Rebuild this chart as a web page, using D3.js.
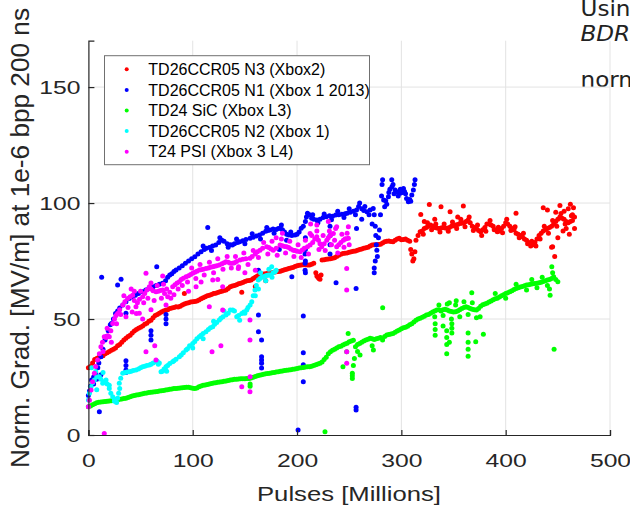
<!DOCTYPE html>
<html><head><meta charset="utf-8">
<script src="https://cdn.jsdelivr.net/npm/d3@7"></script>
<style>body{margin:0;background:#fff;overflow:hidden}svg{display:block}</style>
</head><body>
<script>
const seriesNames = ["TD26CCR05 N3 (Xbox2)","TD26CCR05 N1 (Xbox 1 2013)","TD24 SiC (Xbox L3)","TD26CCR05 N2 (Xbox 1)","T24 PSI (Xbox 3 L4)"];
const seriesColors = ["#ff0000","#0000ff","#00ff00","#00ffff","#ff00ff"];
const xTicks = [0,100,200,300,400,500];
const yTicks = [0,50,100,150];
const xLabel = "Pulses [Millions]";
const yLabel = "Norm. Grad. [MV/m] at 1e-6 bpp 200 ns";
const sideTexts = ["Using","BDR","normalized"];

const redPoints = [[0,29],[2,29.5],[4,31],[6,32.5],[8,33],[10,33.5],[12,34],[14,34.2],[16,35],[18,35.5],[20,36],[22,36.5],[24,37],[26,37.5],[28,38.5],[30,39],[32,40],[34,41],[36,41.7],[38,42.5],[40,43],[42,44],[44,44.8],[46,45.5],[48,46],[50,46.5],[52,47],[54,47.8],[56,48.2],[58,49],[60,49.5],[62,50.5],[64,51.5],[66,52],[68,52.5],[70,53],[72,53.5],[74,53.8],[76,54],[78,54.5],[80,54.8],[82,55],[84,55.3],[86,55.2],[88,55.5],[90,56],[92,56.5],[94,56.8],[96,57],[98,57.3],[100,57.5],[102,57.6],[104,57.8],[106,58.2],[108,58.7],[110,59.2],[112,59.6],[114,60],[116,60.3],[118,60.6],[120,61],[122,61.1],[124,61.4],[126,61.8],[128,62],[130,62.3],[132,62.5],[134,63.2],[136,63.9],[138,64.2],[140,64.5],[142,64.8],[144,65.2],[146,65.4],[148,65.8],[150,66.2],[152,66.5],[154,66.6],[156,66.8],[158,67.5],[160,68],[162,68.5],[164,69],[166,69.2],[168,69.4],[170,69.5],[172,69.7],[174,69.8],[176,70],[178,70.2],[180,70.4],[182,70.5],[184,70.6],[186,70.9],[188,71.2],[190,71.5],[192,71.8],[194,72],[196,72.2],[198,72.6],[200,73],[202,73.2],[204,73.3],[206,73.4],[208,73.4],[210,73.3],[212,73.3],[214,73.6],[216,74],[218,70],[219,68.5],[220,68],[221,67.5],[222,67.2],[223,69],[224,75.4],[226,75.6],[228,75.8],[230,75.9],[232,76],[234,76.2],[236,76.4],[238,77],[240,77.5],[242,77.9],[244,78.3],[246,78.4],[248,78.5],[250,78.8],[252,79],[254,79.2],[256,79.3],[258,79.6],[260,80],[262,80.2],[264,80.5],[266,80.7],[268,81],[270,81.5],[272,81.9],[274,82],[276,82],[278,82.1],[280,82.2],[282,82.8],[284,83.3],[286,83.5],[288,83.6],[290,83.4],[292,83.3],[294,84],[296,84.5],[298,84.8],[300,84.2],[302,84.3],[304,84.5],[306,84],[308,83.5],[309,80],[310,78],[311,75],[312,76],[313,79],[314,84],[316,86],[318,87.6],[320,88],[322,89],[324,89.5],[326,90],[328,90.5],[330,90],[332,89.5],[334,89.2],[336,89],[338,89.3],[340,89.5],[342,89.3],[344,89.1],[346,89.5],[348,90],[350,90.2],[352,90.5],[354,90.8],[356,91.2],[358,91.3],[360,91.5],[362,92],[364,92.7],[366,91.5],[368,90],[370,89.5],[372,89],[374,88.2],[376,87.6],[378,88.5],[380,89.5],[382,91],[384,91],[386,90.5],[388,90],[390,88.5],[392,87.6],[394,88],[396,89],[398,90],[400,91.5],[402,91],[404,90],[406,89],[408,88.5],[410,87],[412,86.5],[414,86],[416,85.5],[418,84.5],[420,84],[422,83],[424,81.5],[426,82],[428,83],[430,84.5],[432,86],[434,87],[436,88],[438,88.5],[440,89],[442,89.5],[444,90],[446,91],[448,92],[450,93],[452,94],[454,93.5],[456,93],[458,92],[460,91.5],[462,92],[464,92.5],[466,94],
[321,86.5],[325,91.5],[329,88.5],[333,91],[337,87.5],[341,91],[345,87.8],[349,91.8],[353,89],[357,93],[361,89.8],[365,94],[369,88.2],[373,90.5],[377,86],[381,87.8],[385,92.5],[389,88.5],[393,89.6],[397,87.2],[401,93],[405,88.2],[409,89.8],[413,85],[417,87],[421,82.5],[425,83.5],[429,81.5],[433,84.5],[437,90],[441,87],[445,92.5],[449,90],[453,95.5],[457,91],[463,94.5],
[445,81.2],[448,96],[450,85],[452,99],[455,88],[456,96.5],[458,89],[460,97.5],[461,86.5],[462,99.5],[464,95],[465,98],[466,89],[326.8,99.4],[338,98.4],[346.7,96.3],[359.4,98.7],[409.9,95.6],[436,98],[318.6,95.1],[322,92],[440,97],[332,93],[354,94],[147,61.5],[92,61],[160,64],[170,66.5],[444,81],[447,77]];

const bluePoints = [[0,17],[1,19],[2,21],[3,23.7],[5,25],[7,26.7],[9,29],[10,31],[12,33.7],[14,37],[16,41],[17,42.4],[19,45],[21,47.5],[22,48.1],[24,50],[26,52.4],[28,53.5],[30,54.8],[33,56],[36,57.5],[39,58.9],[42,59.5],[45,60.3],[48,61],[52,61.8],[55,62.5],[58,63.2],[62,63.9],[65,64.5],[68,65],[71,65.4],[74,66.5],[76,68],[78,69],[80,69.5],[82,70.5],[84,71.1],[87,72],[90,73],[93,74],[96,75],[99,76],[102,76.9],[105,78],[108,79],[111,80],[113,80.5],[116,80.8],[119,81.5],[122,81.9],[125,83],[128,84],[130,83.5],[133,82.5],[136,82],[138,81.9],[140,82.5],[143,83],[145,83.3],[148,83.8],[151,84.3],[155,84.8],[158,85.3],[161,85.8],[164,86.2],[167,87],[170,87.8],[172,88.2],[174,88.4],[177,88.8],[180,88.6],[182,89],[184,89.1],[186,88.5],[188,87.5],[190,86.5],[192,86.2],[195,86],[198,86.2],[200,86.5],[202,87.5],[204,89.1],[206,90],[208,92],[209,94],[210,95.6],[212,95],[214,93.5],[216,93],[219,92.7],[222,93],[225,93.8],[228,94.1],[231,94.5],[234,94.3],[237,94.8],[240,95],[243,95.2],[246,95.4],[248,95.6],[251,96],[254,96.5],[257,97],[259,98.5],[260,100],[262,97.5],[264,96.8],[267,96.3],[270,97],[273,97.7],[274,95],[275,90],[275.5,86],[276,82],[276.5,79.7],[277,77],[278,85],[279,88.4],[280,95],[281,103],[281.5,108],[282,110],[283,101.3],[284,98.4],[286,99.5],[287.6,102.7],[289,106],[290.8,110],[292,108],[294,105.6],[296,104.8],[298.8,104.2],[300,105.5],[302,106.3],[304,104],[305,102],[306.7,100.6],[308,101.5],[310,103.5],[311.5,105.6],[312.5,108],[313.1,110],
[285,101],[291,107],[293,104],[297,103],[301,104.5],[303,105],[309,100.8],[299,106],[288,104.5],[5,22],[8,24],[12,26],
[110,81.5],[118,79.5],[126,85],[134,81],[142,84.5],[150,82.5],[157,86.8],[165,84.5],[171,89.5],[178,87],[185,90.5],[194,87.5],[215,95],[220,91.5],[226,95.3],[233,92.8],[239,96.5],[245,93.8],[250,97.5],[256,95],[265,98.5],[269,95],
[12.7,68],[28,64.7],[31.3,67.1],[65.5,72.5],[114.4,89.5],[10.5,10],[36,32],[36,30],[36,28],[36,27],[60,45],[60,43],[60,41],[74.4,52],[74.4,50],[74.4,48],[36,52.5],[163,71],[163,51.7],[163,44.5],[166,41],[166,33.7],[166,32.3],[166,30.9],[166,28.9],[195,68.2],[206,51.3],[206,35.5],[206,30.3],[206,23],[201,2.2],[237.4,65.6],[256.6,63.2],[256.6,12],[256.6,10.8],[208,70],[208,75],[208,80],[208,85],[231.6,90],[231.6,86],[231.6,82],[231.6,78],[207.7,78],[207.7,74],[207.7,71],[274,72],[274,70],[275,75],[257,89],[262,93],[183,80],[190,84],[272,91]];

const greenPoints = [[0,12.2],[2,12.5],[4,13],[6,13.5],[8,13.9],[10,14.1],[12,14.2],[14,14.3],[16,14.4],[18,14.5],[20,14.7],[22,14.8],[24,15],[26,15.1],[28,15.2],[30,15.4],[32,15.5],[34,15.7],[36,15.8],[38,16.2],[40,16.5],[42,16.8],[44,17],[46,17.2],[48,17.4],[50,17.6],[52,17.8],[54,18],[56,18.1],[58,18.3],[60,18.4],[62,18.5],[64,18.7],[66,18.8],[68,19],[70,19.1],[72,19.2],[74,19.4],[76,19.5],[78,19.7],[80,19.8],[82,20],[84,20.1],[86,20.2],[88,20.3],[90,20.4],[92,20.5],[94,20.6],[96,20.6],[98,20.4],[100,20.2],[102,20],[104,20.3],[106,20.8],[108,21.1],[110,21.4],[112,21.6],[114,21.8],[116,22],[118,22.2],[120,22.4],[122,22.5],[124,22.7],[126,22.9],[128,23],[130,23.2],[132,23.3],[134,23.5],[136,23.7],[138,23.8],[140,24],[142,24],[144,24.1],[146,24.2],[148,24.3],[150,24.3],[152,24.4],[154,24.4],[156,24.6],[158,24.9],[160,25.2],[162,25.5],[164,25.8],[166,26],[168,26.2],[170,26.4],[172,26.5],[174,26.6],[176,26.8],[178,27],[180,27.2],[182,27.3],[184,27.5],[186,27.6],[188,27.8],[190,27.9],[192,28],[194,28.1],[196,28.3],[198,28.5],[200,28.7],[202,28.9],[204,29],[206,29.1],[208,29.3],[210,29.4],[212,29.4],[214,29.6],[216,30],[218,30.3],[220,30.6],[222,30.9],[224,31.5],[226,32.5],[228,33.5],[230,35],[232,35.9],[234,36.5],[236,37],[238,37.5],[240,38],[242,38.3],[244,38.8],[246,39.2],[248,39.6],[250,40.2],[252,40.5],[254,40.8],[256,38],[258,39],[260,39.5],[262,40],[264,40.5],[266,41],[268,41.3],[270,41.7],[272,41.5],[274,41.2],[276,41.5],[278,41.7],[280,42],[282,41],[284,42.5],[286,43.1],[288,43.3],[290,43.5],[292,43.8],[294,44.3],[296,44.8],[298,45.3],[300,45.8],[302,46.2],[304,46.5],[306,46.9],[308,47.5],[310,48],[312,48.7],[314,49.5],[316,50],[318,50.3],[320,50.8],[322,51.2],[324,51.7],[326,52],[328,52.5],[330,53],[332,53.5],[334,53.9],[336,54],[338,53.5],[340,54],[342,54.2],[344,53.9],[346,53.5],[348,53.2],[350,53],[352,53.1],[354,53.5],[356,54],[358,54.5],[360,55],[362,55.3],[364,55],[366,54.5],[368,54.2],[370,54],[372,53.9],[374,54.5],[376,55.5],[378,56.2],[380,56.5],[382,56.8],[384,57.3],[386,57.8],[388,58.3],[390,58.7],[392,59],[394,59.5],[396,60],[398,60.5],[400,61],[402,61.3],[404,61.8],[406,62.2],[408,62.7],[410,63.2],[412,63.5],[414,63.8],[416,64],[418,64.3],[420,64.7],[422,64.8],[424,65],[426,65.2],[428,65.3],[430,65.4],[432,65.6],[434,65.9],[436,66.2],[438,66.5],[440,66.8],[442,67],[444,67.5],[446,68.2],[448,67],[450,66.1],
[332,51],[336,56],[340,51.5],[344,56.5],[348,50],[352,56],[356,51],[360,57.5],[364,52],[368,57],[372,50.5],[346,57],[420,62.5],[425,67],[430,63.5],[435,68],[440,64.5],[445,70],[442,63],[410,65],[400,59],[390,61],
[343.5,45],[343.5,42],[343.5,39],[343.5,35],[348.4,48],[348.4,46],[348.4,44],[332.4,48],[332.4,45.5],[332.4,43],[364,44],[364,40],[364,37],[364,34],[371.3,40.2],[378.6,43.4],[446.4,37],[444.2,72.5],[442.6,60.3],[367.5,61.3],[352.6,57.9],[282.1,54.9],[375.5,51],[249,43.8],[253,26.6],[253,25.5],[253,24.4],[247.6,35.9],[226.8,1.4],[260.4,34.5],[273.2,36.6],[255,33],[254,30],[244,29.4],[258,36],[272,38.5],[155,22],[155,21],[340,47],[346,40]];

const cyanPoints = [[0,15.1],[1,18],[2.5,20.8],[4,22.5],[5.7,23.7],[7,27.4],[8,25],[10.5,25.1],[12,24],[13.7,22.3],[15,23],[16.9,23.7],[18,22],[20,20.1],[21.5,18],[23.3,16.5],[25,15.5],[28,15.8],[29,18],[29.6,22.3],[31,24.5],[32.9,26.6],[35,27],[37,27.2],[39.2,27.3],[41,27.5],[43,27.8],[45.6,28],[48,28.5],[50,29],[52,29.4],[54,29.6],[56,30],[58.4,30.2],[60,30.5],[62,31],[64.8,31.6],[66,31.8],[68,31],[69.6,27.3],[71,27.5],[72.5,28.5],[74.4,29.4],[76,30],[78,30.8],[80.8,31.6],[82,32],[84,32.7],[87.2,33.7],[89,34.5],[91,35.5],[93.6,36.6],[95,37.2],[97,38.5],[100,39.5],[102,40.3],[104,41.5],[106.3,42.4],[108,43],[110,43.8],[112.7,44.5],[115,45.5],[117,46.2],[119.2,46.7],[121,47.7],[123,48.5],[125.5,49.6],[127,50.3],[129,51],[131.9,51.7],[134,52.5],[136,53.9],[138.3,53.9],[140,53.5],[142.2,51],[144,51.5],[147,52.4],[149,53],[151.8,53.9],[153,55],[155,56],[156.6,57.5],[158,60],[159.7,62.5],[161,64.5],[162.9,66.8],[164.5,67.5],[166,68],[167.7,68.2],[169.5,68.5],[171,68.8],[172.5,69],[174.1,69],[175.7,72.5],[177,70],[178.9,70.4],[180,71],
[3,29],[8,19.5],[14,27],[25,14.5],[27,14],[30,20],[20,21.5],[67,30.5],[75,27.5],[100,37.5],[110,41.5],[120,49],[130,53.5],[160,60],[163,63],[170,66.5],[176,68],[173,71.5],[165,70],[150,52.5],[145,49.5]];

const magentaPoints = [[0,12.2],[1,15],[2.5,19.4],[4,23],[5.7,26.6],[7,29.5],[8.9,32.3],[10.5,35],[12,38.1],[13.5,40],[15.2,42.4],[17,42],[18.5,42.8],[20,42.4],[21.5,45],[23.3,48.1],[25,50],[26.5,51.5],[28,52.4],[30,54],[32.9,56],[35,57.5],[37.6,58.9],[40,59.6],[42.4,60.3],[44,58],[45.6,55.3],[47,57],[49,58.5],[52,59.6],[54,61],[56,62.5],[58.4,63.9],[60,63],[62,62.2],[64.8,61.8],[67,62],[69,62.3],[71.2,62.5],[73,61],[76,59.6],[78,61.5],[80.8,63.9],[83,64.8],[85,65.5],[87.2,66.1],[89,67],[91,67.6],[93.6,68.2],[96,68.7],[98,69.2],[100,69.7],[102,70.2],[104,70.6],[106.3,71.1],[108,71.3],[110,71.5],[112.7,71.8],[115,72],[117,72.3],[119.2,72.5],[121,72.8],[123,73],[125.5,73.3],[128,73.8],[130,74.3],[131.9,74.7],[134,74.5],[136,74],[138.3,74],[140,74.3],[142,74.8],[145.3,75.4],[148,75.8],[151,76],[154.9,76.2],[157,77],[160,78],[162,79],[164.5,79.7],[167,80.5],[170.9,81.2],[173,80.8],[175,80.2],[177.2,79.7],[180,80.5],[183.7,81.9],[186,81.6],[188,81.3],[190,81.2],[192,80.8],[194,80.2],[196.4,79.7],[198,79.5],[200,79.2],[202.9,79],[205,79.8],[207,80.5],[210,81.2],[212.5,81.9],[215,83],[217,84.5],[218.9,85.5],[220.5,84],[222,82.5],[223.7,81.2],[226,82.5],[228.5,84],[230,85],[232,86],[234.8,86.9],[236,84],[238,81.2],[240,82],[242,83],[244.4,84],[246,84.5],[247,84.6],[249.2,84.8],
[14,36],[18,46],[22,40],[27,48],[31,52],[34,60],[38,55],[41,63],[44,62],[46,52.4],[50,62],[53,57],[57,59],[60,65.5],[63,58],[66,64.5],[70,59],[72,65],[75,63],[79,59],[82,60.5],[86,63],[90,64.5],[95,66],[99,72],[103,67.5],[107,73.5],[111,69],[116,74.5],[120,70],[124,76],[129,71.5],[133,77],[137,72],[141,77],[144,72.5],[149,78.5],[153,73.5],[158,79.5],[163,76.5],[168,83],[172,78],[176,83.5],[181,77.5],[185,84.5],[189,78.5],[193,83.5],[197,77],[201,82],[204,76.5],[208,84],[211,78],[214,86],[219,88],[221,80],[225,86],[227,79.5],[231,88],[233,82],[237,89],[239,78.5],[243,86.5],[245,81],[248,87],[250,82],
[55.2,69.7],[71.2,68.5],[103.2,63.9],[118.5,35.9],[127,38.5],[64.8,32.3],[55.2,35.9],[63.6,38.5],[15.2,0.7],[119.2,66.8],[128.7,63.9],[115.9,55.3],[128.7,53.9],[74.4,56],[48.8,52.5],[154.9,49.6],[154.9,41],[147,20.8],[154.9,18.7],[247.6,62.5],[247.6,35.9],[247.6,30.9],[155,25.1],[143.7,71.8],[212.5,86.9],[238,89.8],[249.2,89.8],[247.6,71.8],[230,92],[219,90.5],[213,91],[180,85],[186,87],[108,66],[124,67],[96,62],[36,51],[42,53],[52,50],[60,54],[150,70],[160,71]];

const allSeries = [redPoints, bluePoints, greenPoints, cyanPoints, magentaPoints];

const W = 630, H = 505;
const svg = d3.select("body").append("svg").attr("width", W).attr("height", H);
const x = d3.scaleLinear().domain([0, 500]).range([88.4, 610]);
const y = d3.scaleLinear().domain([0, 170]).range([435, 40.7]);
const axisColor = "#262626";
const font = "'Liberation Sans', Arial, Helvetica, sans-serif";

// side text (cut off slide text on the right)
const side = svg.append("g").attr("font-family", "'DejaVu Sans', sans-serif").attr("font-size", 21).attr("fill", "#222");
side.append("text").attr("transform", "translate(580.5,15.5) scale(1.1,1)").text(sideTexts[0]);
side.append("text").attr("transform", "translate(580.5,40.5) scale(1.1,1)").attr("font-style", "italic").text(sideTexts[1]);
side.append("text").attr("transform", "translate(580.5,87) scale(1.1,1)").text(sideTexts[2]);

// grid
const grid = svg.append("g").attr("stroke", "#e3e3e3").attr("stroke-width", 1);
grid.selectAll("line.v").data(xTicks.filter(d => d > 0)).join("line")
  .attr("x1", d => x(d)).attr("x2", d => x(d)).attr("y1", y(0)).attr("y2", y(170));
grid.selectAll("line.h").data(yTicks.filter(d => d > 0)).join("line")
  .attr("x1", x(0)).attr("x2", x(500)).attr("y1", d => y(d)).attr("y2", d => y(d));

// points
const pts = svg.append("g");
allSeries.forEach((s, i) => {
  pts.append("g").attr("fill", seriesColors[i]).selectAll("circle").data(s).join("circle")
    .attr("cx", d => x(d[0])).attr("cy", d => y(d[1])).attr("r", 2.5);
});

// axes
const xAxis = svg.append("g").attr("transform", `translate(0,${y(0)})`)
  .call(d3.axisBottom(x).tickValues(xTicks).tickSize(-5).tickFormat(d3.format("d")));
const yAxis = svg.append("g").attr("transform", `translate(${x(0)},0)`)
  .call(d3.axisLeft(y).tickValues(yTicks).tickSize(-6).tickFormat(d3.format("d")));
[xAxis, yAxis].forEach(a => {
  a.select(".domain").attr("stroke", axisColor).attr("stroke-width", 1.2);
  a.selectAll(".tick line").attr("stroke", axisColor).attr("stroke-width", 1.2);
  a.selectAll(".tick text").attr("font-family", font).attr("font-size", 19).attr("fill", axisColor);
});
xAxis.selectAll(".tick text").attr("y", 0).attr("dy", 0).attr("transform", "translate(0,32) scale(1.3,1)");
yAxis.selectAll(".tick text").attr("x", 0).attr("dy", "0.36em").attr("transform", "translate(-8,0) scale(1.3,1)");

// axis labels
svg.append("text").attr("x", 349).attr("y", 501).attr("text-anchor", "middle")
  .attr("font-family", font).attr("font-size", 21).attr("fill", axisColor)
  .attr("textLength", 184).attr("lengthAdjust", "spacingAndGlyphs").text(xLabel);
svg.append("text").attr("transform", "translate(28.5,238) scale(1.22,1) rotate(-90)")
  .attr("text-anchor", "middle").attr("font-family", font).attr("font-size", 21).attr("fill", axisColor)
  .attr("textLength", 460).attr("lengthAdjust", "spacingAndGlyphs").text(yLabel);

// legend
const lg = svg.append("g");
lg.append("rect").attr("x", 104.5).attr("y", 55.7).attr("width", 265).attr("height", 109)
  .attr("fill", "#fff").attr("stroke", "#707070").attr("stroke-width", 1);
seriesNames.forEach((n, i) => {
  const cy = 69.3 + i * 20.6;
  lg.append("circle").attr("cx", 126.7).attr("cy", cy).attr("r", 2).attr("fill", seriesColors[i]);
  lg.append("text").attr("x", 148.3).attr("y", cy).attr("dy", "0.36em")
    .attr("font-family", font).attr("font-size", 16).attr("fill", "#000").text(n);
});
</script>
</body></html>
